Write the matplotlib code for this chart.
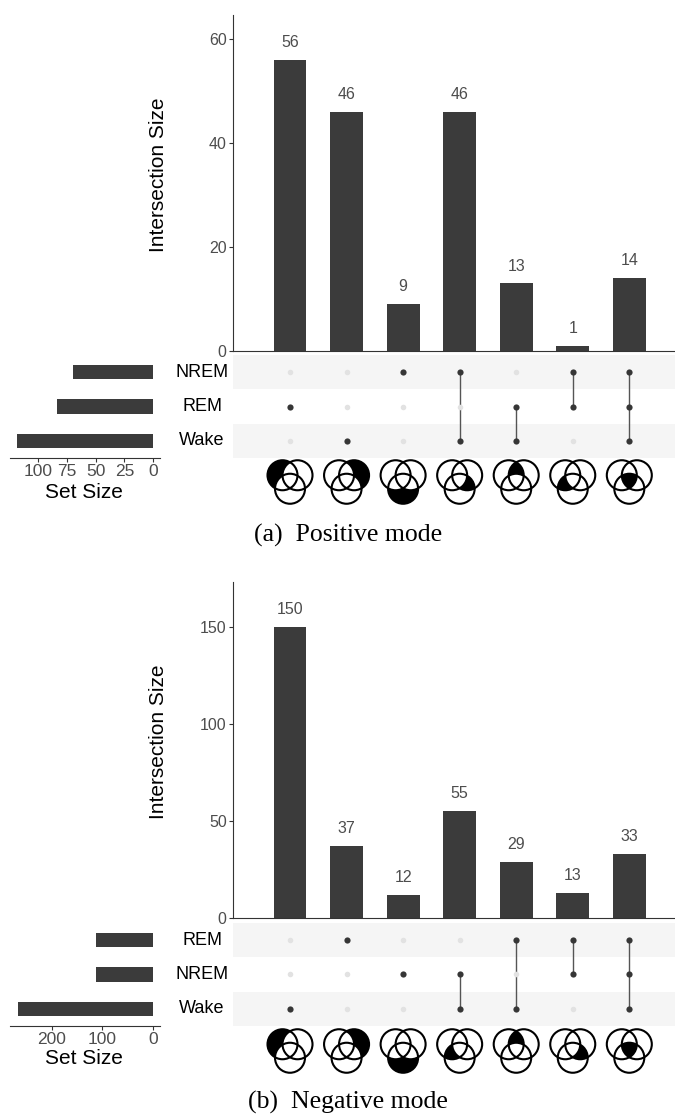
import matplotlib
matplotlib.use("Agg")
import matplotlib.pyplot as plt
from matplotlib.patches import Circle, PathPatch
from matplotlib.path import Path
import numpy as np

plt.rcParams["font.family"] = ["Liberation Sans", "DejaVu Sans"]

# ---------------- data ----------------
# (a) positive mode
pos_rows = ["NREM", "REM", "Wake"]                 # matrix rows, top to bottom
pos_counts = [56, 46, 9, 46, 13, 1, 14]
pos_members = [["REM"], ["Wake"], ["NREM"], ["NREM", "Wake"],
               ["REM", "Wake"], ["NREM", "REM"], ["NREM", "REM", "Wake"]]
pos_set_sizes = {"NREM": 70, "REM": 84, "Wake": 119}
pos_venn_circle = {"REM": "left", "Wake": "right", "NREM": "bottom"}

# (b) negative mode
neg_rows = ["REM", "NREM", "Wake"]
neg_counts = [150, 37, 12, 55, 29, 13, 33]
neg_members = [["Wake"], ["REM"], ["NREM"], ["NREM", "Wake"],
               ["REM", "Wake"], ["REM", "NREM"], ["REM", "NREM", "Wake"]]
neg_set_sizes = {"REM": 112, "NREM": 113, "Wake": 267}
neg_venn_circle = {"Wake": "left", "REM": "right", "NREM": "bottom"}

# ---------------- style ----------------
BAR = "#3b3b3b"
DOT_ON = "#363636"
DOT_OFF = "#e2e2e2"
STRIPE = "#f5f5f5"
TICK = "#4d4d4d"
W, H = 675, 1115

fig = plt.figure(figsize=(W / 100, H / 100), dpi=100)


def px_rect(l, t, r, b):
    return [l / W, 1 - b / H, (r - l) / W, (b - t) / H]


CIRCLES = {"left": (-0.5, 0.45), "right": (0.5, 0.45), "bottom": (0.0, -0.45)}
R = 1.0


def hole_path(center, r, big=5.0):
    """Rectangle with a circular hole (opposite winding)."""
    rect = [(-big, -big), (big, -big), (big, big), (-big, big), (-big, -big)]
    th = np.linspace(0, -2 * np.pi, 181)
    circ = list(zip(center[0] + r * np.cos(th), center[1] + r * np.sin(th)))
    verts = rect + circ
    codes = ([Path.MOVETO] + [Path.LINETO] * 3 + [Path.CLOSEPOLY] +
             [Path.MOVETO] + [Path.LINETO] * 179 + [Path.CLOSEPOLY])
    return Path(verts, codes)


def draw_venn(ax, inside, outside):
    ax.set_xlim(-1.6, 1.6)
    ax.set_ylim(-1.533, 1.533)
    ax.axis("off")
    first = CIRCLES[inside[0]]
    ax.add_patch(Circle(first, R, facecolor="black", edgecolor="none"))
    for name in inside[1:]:
        ax.add_patch(PathPatch(hole_path(CIRCLES[name], R),
                               facecolor="white", edgecolor="none"))
    for name in outside:
        ax.add_patch(Circle(CIRCLES[name], R, facecolor="white", edgecolor="none"))
    for c in CIRCLES.values():
        ax.add_patch(Circle(c, R, facecolor="none", edgecolor="black", lw=1.5))


def draw_panel(rows, counts, members, set_sizes, venn_circle,
               ymax, yticks, size_xlim, size_ticks, g, caption):
    n = len(counts)
    xs = np.arange(n)
    xlo, xhi = -1.008, 6.808
    left, right = 233, 675

    # intersection size bars
    ax = fig.add_axes(px_rect(left, g["bar_top"], right, g["bar_bottom"]))
    ax.bar(xs, counts, width=0.58, color=BAR)
    for x, c in zip(xs, counts):
        ax.annotate(str(c), (x, c), xytext=(0, 7), textcoords="offset points",
                    ha="center", va="bottom", fontsize=11.5, color=TICK)
    ax.set_xlim(xlo, xhi)
    ax.set_ylim(0, ymax)
    ax.set_yticks(yticks)
    ax.set_xticks([])
    for s in ("top", "right"):
        ax.spines[s].set_visible(False)
    for s in ("left", "bottom"):
        ax.spines[s].set_color("#333333")
        ax.spines[s].set_linewidth(0.8)
    ax.tick_params(axis="y", labelsize=11.5, labelcolor=TICK, length=3,
                   color="#333333", width=0.8, pad=1.5)
    fig.text(159 / W, 1 - (g["bar_top"] + g["bar_bottom"]) / 2 / H + 0.007,
             "Intersection Size", rotation=90, ha="center", va="center",
             fontsize=15)

    # dot matrix
    mx = fig.add_axes(px_rect(left, g["mat_top"], right, g["mat_bottom"]))
    nrows = len(rows)
    ypos = {name: nrows - 1 - i for i, name in enumerate(rows)}
    for i, name in enumerate(rows):
        if i % 2 == 0:
            mx.axhspan(ypos[name] - 0.5, ypos[name] + 0.5, color=STRIPE, lw=0)
    for x, mem in zip(xs, members):
        for name in rows:
            on = name in mem
            mx.scatter(x, ypos[name], s=20 if on else 16,
                       color=DOT_ON if on else DOT_OFF, zorder=3, lw=0)
        ys = [ypos[m] for m in mem]
        if len(ys) > 1:
            mx.plot([x, x], [min(ys), max(ys)], color="#555555", lw=1.0, zorder=2)
    mx.set_xlim(xlo, xhi)
    mx.set_ylim(-0.5, nrows - 0.5)
    mx.axis("off")

    # row labels
    row_h = (g["mat_bottom"] - g["mat_top"]) / nrows
    for i, name in enumerate(rows):
        ypx = g["mat_top"] + (i + 0.5) * row_h
        fig.text(202 / W, 1 - ypx / H, name, ha="center", va="center", fontsize=13)

    # set size bars
    sx = fig.add_axes(px_rect(10, g["mat_top"], 160, g["mat_bottom"]))
    sx.barh([ypos[nm] for nm in rows], [set_sizes[nm] for nm in rows],
            height=0.42, color=BAR)
    sx.set_xlim(*size_xlim)
    sx.set_ylim(-0.5, nrows - 0.5)
    sx.set_xticks(size_ticks)
    sx.set_yticks([])
    for s in ("top", "right", "left"):
        sx.spines[s].set_visible(False)
    sx.spines["bottom"].set_color("#333333")
    sx.spines["bottom"].set_linewidth(0.8)
    sx.tick_params(axis="x", labelsize=12.5, labelcolor=TICK, length=3,
                   color="#333333", width=0.8, pad=1.5)
    fig.text(84 / W, 1 - g["size_label_y"] / H, "Set Size", ha="center",
             va="center", fontsize=15)

    # venn icons
    for x, mem in zip(xs, members):
        cx = left + (x - xlo) / (xhi - xlo) * (right - left)
        iax = fig.add_axes(px_rect(cx - 24, g["icon_y"] - 23, cx + 24, g["icon_y"] + 23))
        inside = [venn_circle[m] for m in mem]
        outside = [venn_circle[m] for m in venn_circle if m not in mem]
        draw_venn(iax, inside, outside)

    fig.text(348 / W, 1 - g["caption_y"] / H, caption, ha="center", va="center",
             fontsize=18.5, family=["Liberation Serif", "DejaVu Serif"])


draw_panel(pos_rows, pos_counts, pos_members, pos_set_sizes, pos_venn_circle,
           64.6, [0, 20, 40, 60], (124.7, -6.1), [0, 25, 50, 75, 100],
           dict(bar_top=15, bar_bottom=351, mat_top=355, mat_bottom=458,
                icon_y=482, size_label_y=492, caption_y=535),
           "(a)  Positive mode")

draw_panel(neg_rows, neg_counts, neg_members, neg_set_sizes, neg_venn_circle,
           173.0, [0, 50, 100, 150], (282.0, -13.8), [0, 100, 200],
           dict(bar_top=582, bar_bottom=918, mat_top=923, mat_bottom=1026,
                icon_y=1051, size_label_y=1058, caption_y=1102),
           "(b)  Negative mode")

fig.savefig("out.png", dpi=100, facecolor="white")
